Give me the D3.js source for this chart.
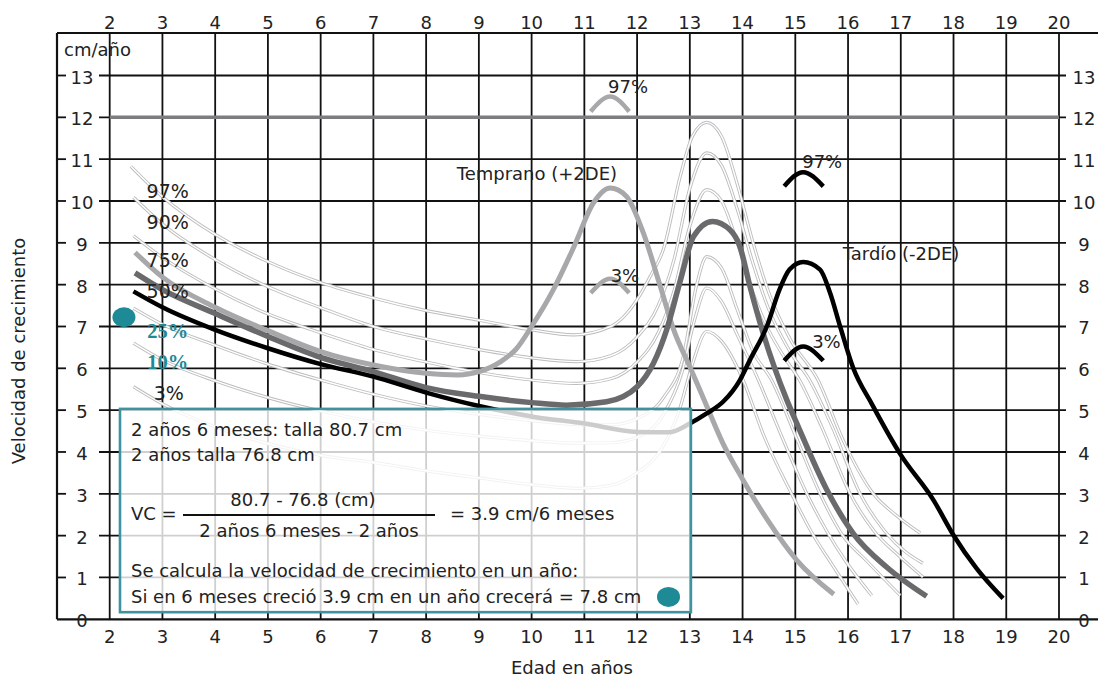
<!DOCTYPE html>
<html><head><meta charset="utf-8">
<script src="https://cdn.jsdelivr.net/npm/d3@7/dist/d3.min.js"></script>
<style>
html,body{margin:0;padding:0;background:#fff;}
svg{display:block;font-family:"DejaVu Sans",Lato,sans-serif;}
</style></head>
<body>
<svg id="chart" width="1098" height="678"></svg>
<script>
// ---------- DATA ----------
const xTicks = d3.range(2, 21);          // Edad en años
const yTicks = d3.range(0, 14);          // cm/año

// percentile curves (average maturers) [age, cm/año]
const p97 = [[2.4,10.83],[3,10.1],[4,9.2],[5,8.55],[6,8.05],[7,7.68],[8,7.38],[9,7.15],[10,6.92],[10.8,6.8],[11.5,7.0],[12,7.64],[12.25,8.2],[12.5,8.85],[12.82,10.6],[13.05,11.55],[13.32,11.88],[13.6,11.55],[13.9,10.4],[14.2,9.0],[14.5,7.8],[14.9,6.7],[15.43,5.72],[15.9,4.3],[16.48,3.0],[16.9,2.5],[17.37,2.06]];
const p90 = [[2.45,10.09],[3,9.45],[4,8.6],[5,7.95],[6,7.45],[7,7.0],[8,6.7],[9,6.45],[10,6.25],[10.85,6.16],[11.5,6.3],[12,6.75],[12.4,7.5],[12.7,8.6],[13.0,10.3],[13.32,11.15],[13.6,10.85],[13.9,9.8],[14.2,8.5],[14.5,7.4],[14.9,6.4],[15.27,5.72],[15.7,4.6],[16.23,3.0],[16.7,2.1],[17.1,1.6],[17.42,1.34]];
const p75 = [[2.45,9.17],[3,8.65],[4,7.9],[5,7.3],[6,6.85],[7,6.45],[8,6.15],[9,5.9],[10,5.72],[10.85,5.64],[11.5,5.75],[12,6.15],[12.4,6.85],[12.7,7.85],[13.0,9.4],[13.32,10.27],[13.6,10.0],[13.9,9.0],[14.2,7.8],[14.5,6.9],[14.8,6.25],[15.08,5.72],[15.5,4.6],[16.04,3.0],[16.5,2.1],[16.98,1.5],[17.42,1.01]];
const p25 = [[2.45,7.44],[3,7.05],[4,6.55],[5,6.1],[6,5.72],[7,5.38],[8,5.1],[9,4.9],[10,4.75],[11,4.65],[11.5,4.65],[12,4.8],[12.5,5.3],[12.88,6.3],[13.13,8.0],[13.32,8.67],[13.6,8.4],[13.9,7.4],[14.2,6.4],[14.55,5.72],[15.0,4.4],[15.47,3.0],[15.9,2.0],[16.35,1.4],[16.99,0.57]];
const p10 = [[2.45,6.6],[3,6.2],[4,5.7],[5,5.3],[6,4.98],[7,4.72],[8,4.52],[9,4.38],[10,4.27],[10.9,4.21],[11.5,4.22],[12,4.35],[12.5,4.9],[12.85,5.9],[13.1,7.2],[13.32,7.92],[13.6,7.6],[13.9,6.8],[14.3,5.72],[14.7,4.5],[15.22,3.0],[15.6,2.1],[15.95,1.4],[16.45,0.57]];
const p3 = [[2.45,5.56],[3,5.15],[4,4.6],[5,4.2],[6,3.92],[7,3.75],[8,3.55],[9,3.38],[10,3.22],[10.9,3.13],[11.5,3.2],[12,3.5],[12.5,4.15],[12.8,5.0],[13.05,6.1],[13.32,6.88],[13.6,6.65],[14.01,5.72],[14.4,4.4],[14.93,3.0],[15.3,2.1],[15.65,1.4],[16.19,0.36]];

// bold curves
const temprano = [[2.48,8.77],[3,8.18],[4,7.46],[5,6.9],[6,6.4],[7,6.08],[8,5.88],[8.6,5.84],[9,5.92],[9.4,6.15],[9.7,6.45],[10,7.0],[10.4,7.85],[10.8,8.9],[11.17,9.95],[11.49,10.31],[11.8,10.11],[12.12,9.23],[12.44,7.96],[12.7,6.9],[13,6.04],[13.32,5.1],[13.63,4.2],[14.0,3.35],[14.46,2.4],[15.03,1.41],[15.73,0.6]];
const promedio = [[2.48,8.28],[3,7.88],[4,7.31],[5,6.76],[6,6.26],[7,5.92],[8,5.54],[9,5.33],[10,5.18],[10.66,5.12],[11.42,5.2],[12,5.56],[12.31,6.12],[12.56,6.92],[12.82,8.1],[13.07,9.15],[13.43,9.51],[13.76,9.31],[13.95,8.91],[14.14,7.96],[14.39,6.84],[14.84,5.24],[15.03,4.68],[15.6,3.09],[16.1,2.05],[16.73,1.25],[17.49,0.55]];
const tardio = [[2.45,7.84],[3,7.46],[4,6.92],[5,6.48],[6,6.1],[7,5.8],[8,5.42],[9,5.1],[10,4.85],[11,4.68],[12,4.48],[12.6,4.47],[13,4.68],[13.32,4.92],[13.63,5.2],[13.95,5.72],[14.14,6.2],[14.46,7.0],[14.7,7.88],[14.89,8.36],[15.15,8.54],[15.47,8.36],[15.66,7.8],[15.85,7.0],[16.1,6.0],[16.45,5.15],[17,3.93],[17.62,2.85],[18,2.01],[18.44,1.21],[18.94,0.5]];

const refLine = [[2,12],[20,12]];

// small peak arcs (97% / 3%) for early and late maturers
const arcsTemprano = [[[11.12,12.14],[11.49,12.5],[11.85,12.14]], [[11.12,7.8],[11.49,8.14],[11.85,7.8]]];
const arcsTardio = [[[14.79,10.35],[15.15,10.69],[15.53,10.35]], [[14.79,6.18],[15.15,6.52],[15.53,6.18]]];

// labels [text, age, value, teal]
const pctLabels = [["97%",3.1,10.08,false],["90%",3.1,9.34,false],["75%",3.1,8.43,false],["50%",3.1,7.69,false],["25%",3.1,6.73,true],["10%",3.1,5.99,true],["3%",3.12,5.24,false]];
const arcLabels = [["97%",11.83,12.57],["3%",11.77,8.07],["97%",15.51,10.80],["3%",15.59,6.48]];
const curveLabels = [["Temprano (+2DE)",8.58,10.5],["Tardío (-2DE)",15.9,8.6]];
const dotPoint = [2.27,7.22];

const boxLines = ["2 años 6 meses: talla 80.7 cm","2 años talla 76.8 cm"];
const fracTop = "80.7 - 76.8 (cm)", fracBottom = "2 años 6 meses - 2 años", fracLeft = "VC =", fracRight = "= 3.9 cm/6 meses";
const boxLines2 = ["Se calcula la velocidad de crecimiento en un año:","Si en 6 meses creció 3.9 cm en un año crecerá = 7.8 cm"];

// ---------- CHART ----------
const svg = d3.select("#chart");
const x = d3.scaleLinear().domain([2,20]).range([109.7,1059]);
const y = d3.scaleLinear().domain([0,13]).range([619.3,75.5]);
const teal = "#1d8a95", tealLight = "#3e949e";
const txt = "#222";
const fs = 18;

// grid: vertical
svg.append("g").selectAll("line").data(xTicks).join("line")
  .attr("x1", d=>x(d)).attr("x2", d=>x(d)).attr("y1", 33).attr("y2", 619.3)
  .attr("stroke", "#111").attr("stroke-width", 1.8);
// grid: horizontal
svg.append("g").selectAll("line").data(yTicks.filter(d=>d>0)).join("line")
  .attr("x1", 99).attr("x2", 1066).attr("y1", d=>y(d)).attr("y2", d=>y(d))
  .attr("stroke", "#111").attr("stroke-width", 1.8);
// left ticks
svg.append("g").selectAll("line").data(yTicks.filter(d=>d>0)).join("line")
  .attr("x1", 57).attr("x2", 66).attr("y1", d=>y(d)).attr("y2", d=>y(d))
  .attr("stroke", "#111").attr("stroke-width", 1.8);
// frame
svg.append("line").attr("x1",57).attr("x2",1098).attr("y1",33).attr("y2",33).attr("stroke","#111").attr("stroke-width",2.2);
svg.append("line").attr("x1",57).attr("x2",1098).attr("y1",619.3).attr("y2",619.3).attr("stroke","#111").attr("stroke-width",2.2);
svg.append("line").attr("x1",57).attr("x2",57).attr("y1",33).attr("y2",619.3).attr("stroke","#111").attr("stroke-width",2.2);

// tick labels
const tl = svg.append("g").attr("fill", txt).attr("font-size", fs).attr("text-anchor","middle");
tl.selectAll(".xt").data(xTicks).join("text").attr("class","xt").attr("x",d=>x(d)).attr("y",28.5).text(d=>d);
tl.selectAll(".xb").data(xTicks).join("text").attr("class","xb").attr("x",d=>x(d)).attr("y",642.5).text(d=>d);
tl.selectAll(".yl").data(yTicks).join("text").attr("class","yl").attr("x",82).attr("y",d=>y(d)+8).text(d=>d);
tl.selectAll(".yr").data(yTicks).join("text").attr("class","yr").attr("x",1084).attr("y",d=>y(d)+8).text(d=>d);

svg.append("text").attr("x",64).attr("y",56).attr("font-size",fs).attr("fill",txt).text("cm/año");
svg.append("text").attr("transform","translate(25,351) rotate(-90)").attr("text-anchor","middle")
  .attr("font-size",fs).attr("fill",txt).text("Velocidad de crecimiento");
svg.append("text").attr("x",572).attr("y",674).attr("text-anchor","middle")
  .attr("font-size",fs).attr("fill",txt).text("Edad en años");

const line = d3.line().x(d=>x(d[0])).y(d=>y(d[1])).curve(d3.curveMonotoneX);
const arcLine = d3.line().x(d=>x(d[0])).y(d=>y(d[1])).curve(d3.curveNatural);

// reference line at 12
svg.append("path").attr("d", line(refLine)).attr("stroke","#7d7d7f").attr("stroke-width",3.5).attr("fill","none");

// thin percentile curves (double line)
const pcts = [p97,p90,p75,p25,p10,p3];
const gthin = svg.append("g").attr("fill","none");
gthin.selectAll(".o").data(pcts).join("path").attr("class","o").attr("d",line)
  .attr("stroke","#bcbcbc").attr("stroke-width",3.2);
gthin.selectAll(".i").data(pcts).join("path").attr("class","i").attr("d",line)
  .attr("stroke","#fff").attr("stroke-width",1.4);

// bold curves
const bold = [
  {d:temprano, c:"#a8a8aa", w:5},
  {d:promedio, c:"#6a6a6d", w:5.5},
  {d:tardio, c:"#000", w:4.5}
];
svg.append("g").attr("fill","none").selectAll("path").data(bold).join("path")
  .attr("d", d=>line(d.d)).attr("stroke", d=>d.c).attr("stroke-width", d=>d.w);

// arcs
svg.append("g").attr("fill","none").selectAll("path").data(arcsTemprano).join("path")
  .attr("d", arcLine).attr("stroke","#a8a8aa").attr("stroke-width",4.5);
svg.append("g").attr("fill","none").selectAll("path").data(arcsTardio).join("path")
  .attr("d", arcLine).attr("stroke","#000").attr("stroke-width",4.5);

// labels
svg.append("g").selectAll("text").data(pctLabels).join("text")
  .attr("x", d=>x(d[1])).attr("y", d=>y(d[2])).attr("text-anchor","middle")
  .attr("font-size", d=>d[3]?20.5:19)
  .attr("font-family", d=>d[3]?"'Liberation Serif',serif":null)
  .attr("font-weight", d=>d[3]?"bold":null)
  .attr("fill", d=>d[3]?teal:txt).text(d=>d[0]);
svg.append("g").selectAll("text").data(arcLabels).join("text")
  .attr("x", d=>x(d[1])).attr("y", d=>y(d[2])).attr("text-anchor","middle")
  .attr("font-size",fs).attr("fill",txt).text(d=>d[0]);
svg.append("g").selectAll("text").data(curveLabels).join("text")
  .attr("x", d=>x(d[1])).attr("y", d=>y(d[2])).attr("font-size",fs).attr("fill",txt).text(d=>d[0]);

// teal dot near 2 years
svg.append("ellipse").attr("cx", x(dotPoint[0])).attr("cy", y(dotPoint[1])).attr("rx",11.5).attr("ry",10).attr("fill",teal);

// explanation box
const bx0 = x(2.195), bx1 = x(13.02), by0 = y(5.03), by1 = y(0.17);
svg.append("rect").attr("x",bx0).attr("y",by0).attr("width",bx1-bx0).attr("height",by1-by0)
  .attr("fill","#fff").attr("fill-opacity",0.8).attr("stroke",tealLight).attr("stroke-width",2.6);
const bt = svg.append("g").attr("font-size",fs).attr("fill",txt);
bt.selectAll(".l1").data(boxLines).join("text").attr("class","l1")
  .attr("x", bx0+11).attr("y",(d,i)=>by0+27+i*25.5).text(d=>d);
bt.append("text").attr("x",bx0+11).attr("y",by0+111).text(fracLeft);
bt.append("line").attr("x1",183).attr("x2",435).attr("y1",by0+106).attr("y2",by0+106).attr("stroke","#111").attr("stroke-width",2);
bt.append("text").attr("x",303).attr("y",by0+97).attr("text-anchor","middle").text(fracTop);
bt.append("text").attr("x",309).attr("y",by0+128).attr("text-anchor","middle").text(fracBottom);
bt.append("text").attr("x",450).attr("y",by0+111).text(fracRight);
bt.selectAll(".l2").data(boxLines2).join("text").attr("class","l2")
  .attr("x", bx0+11).attr("y",(d,i)=>by0+168+i*26.5).text(d=>d);
svg.append("ellipse").attr("cx",668.5).attr("cy",by0+188).attr("rx",11.5).attr("ry",10).attr("fill",teal);
</script>
</body></html>
